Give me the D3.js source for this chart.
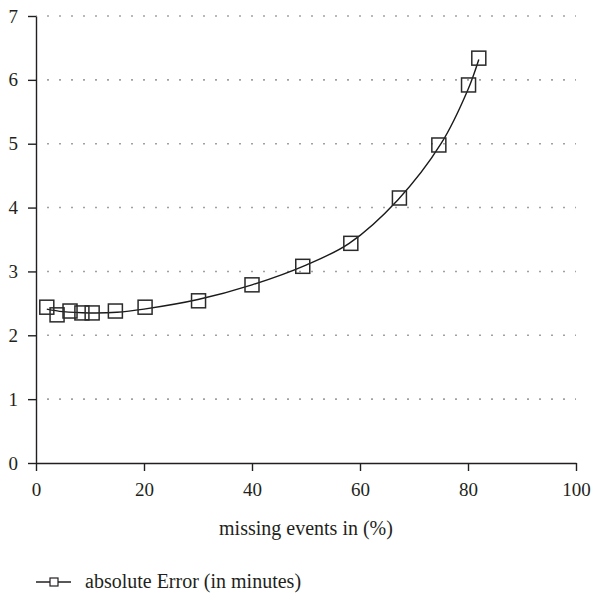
<!DOCTYPE html>
<html>
<head>
<meta charset="utf-8">
<script src="https://cdn.jsdelivr.net/npm/d3@7"></script>
<style>
  body { margin: 0; background: #fff; }
  svg text { font-family: "Liberation Serif", "Times New Roman", serif; fill: #231f20; }
</style>
</head>
<body>
<div id="chart"></div>
<script>
// measured points
const missing = [2.0, 3.9, 6.3, 8.5, 10.4, 14.7, 20.2, 30.1, 40.0, 49.4, 58.3, 67.3, 74.6, 80.1, 82.0];
const absError = [2.44, 2.32, 2.38, 2.35, 2.35, 2.38, 2.44, 2.54, 2.79, 3.08, 3.44, 4.15, 4.98, 5.92, 6.34];

// fitted trend line
const trendX = [2, 5, 10, 15, 20, 30, 40, 50, 58, 67, 75, 80, 82];
const trendY = [2.41, 2.37, 2.35, 2.36, 2.41, 2.56, 2.79, 3.10, 3.44, 4.12, 5.00, 5.85, 6.32];

const xTicks = [0, 20, 40, 60, 80, 100];
const yTicks = [0, 1, 2, 3, 4, 5, 6, 7];
const seriesName = "absolute Error (in minutes)";
const xTitle = "missing events in (%)";

function createChart(container) {
    const W = 592, H = 593;
    const margin = { top: 16, right: 16, bottom: 130, left: 36 };
    const width = W - margin.left - margin.right;
    const height = H - margin.top - margin.bottom;
    const ink = "#231f20";

    const xScale = d3.scaleLinear().domain([0, 100]).range([0, width]);
    const yScale = d3.scaleLinear().domain([0, 7]).range([height, 0]);

    const root = d3.select(container).append("svg")
        .attr("width", W)
        .attr("height", H);

    const svg = root.append("g")
        .attr("transform", `translate(${margin.left},${margin.top})`);

    // dotted gridlines
    svg.append("g")
        .selectAll("line")
        .data(yTicks.filter(d => d > 0))
        .enter()
        .append("line")
        .attr("x1", 0)
        .attr("x2", width)
        .attr("y1", d => yScale(d))
        .attr("y2", d => yScale(d))
        .attr("stroke", "#8a8a8a")
        .attr("stroke-width", 1.6)
        .attr("stroke-dasharray", "1.6,10.4")
        .attr("stroke-dashoffset", 0.8);

    // x axis
    const gx = svg.append("g")
        .attr("transform", `translate(0,${height})`)
        .call(d3.axisBottom(xScale).tickValues(xTicks).tickSize(8).tickSizeOuter(0).tickPadding(12));
    // y axis
    const gy = svg.append("g")
        .call(d3.axisLeft(yScale).tickValues(yTicks).tickFormat(d3.format("d")).tickSize(8).tickSizeOuter(0).tickPadding(10));

    [gx, gy].forEach(g => {
        g.selectAll("path, line").attr("stroke", ink).attr("stroke-width", 1.4);
        g.selectAll("text").style("font-size", "19px").attr("fill", ink);
    });

    // trend curve
    const trend = trendX.map((x, i) => [x, trendY[i]]);
    svg.append("path")
        .datum(trend)
        .attr("fill", "none")
        .attr("stroke", "#1a1a1a")
        .attr("stroke-width", 1.4)
        .attr("d", d3.line()
            .x(d => xScale(d[0]))
            .y(d => yScale(d[1]))
            .curve(d3.curveCatmullRom));

    // square markers
    const s = 14;
    svg.selectAll(".pt")
        .data(missing.map((x, i) => [x, absError[i]]))
        .enter()
        .append("rect")
        .attr("class", "pt")
        .attr("x", d => xScale(d[0]) - s / 2)
        .attr("y", d => yScale(d[1]) - s / 2)
        .attr("width", s)
        .attr("height", s)
        .attr("fill", "none")
        .attr("stroke", "#2a2a2a")
        .attr("stroke-width", 1.5);

    // x axis title
    svg.append("text")
        .attr("x", width / 2)
        .attr("y", height + 72)
        .attr("text-anchor", "middle")
        .style("font-size", "20px")
        .text(xTitle);

    // legend
    const lg = root.append("g").attr("transform", "translate(36,582)");
    lg.append("line")
        .attr("x1", 0).attr("x2", 35)
        .attr("stroke", ink).attr("stroke-width", 1.3);
    lg.append("rect")
        .attr("x", 14).attr("y", -4)
        .attr("width", 8).attr("height", 8)
        .attr("fill", "#fff")
        .attr("stroke", ink).attr("stroke-width", 1.2);
    lg.append("text")
        .attr("x", 49)
        .attr("y", 6)
        .style("font-size", "20px")
        .text(seriesName);
}

createChart("#chart");
</script>
</body>
</html>
